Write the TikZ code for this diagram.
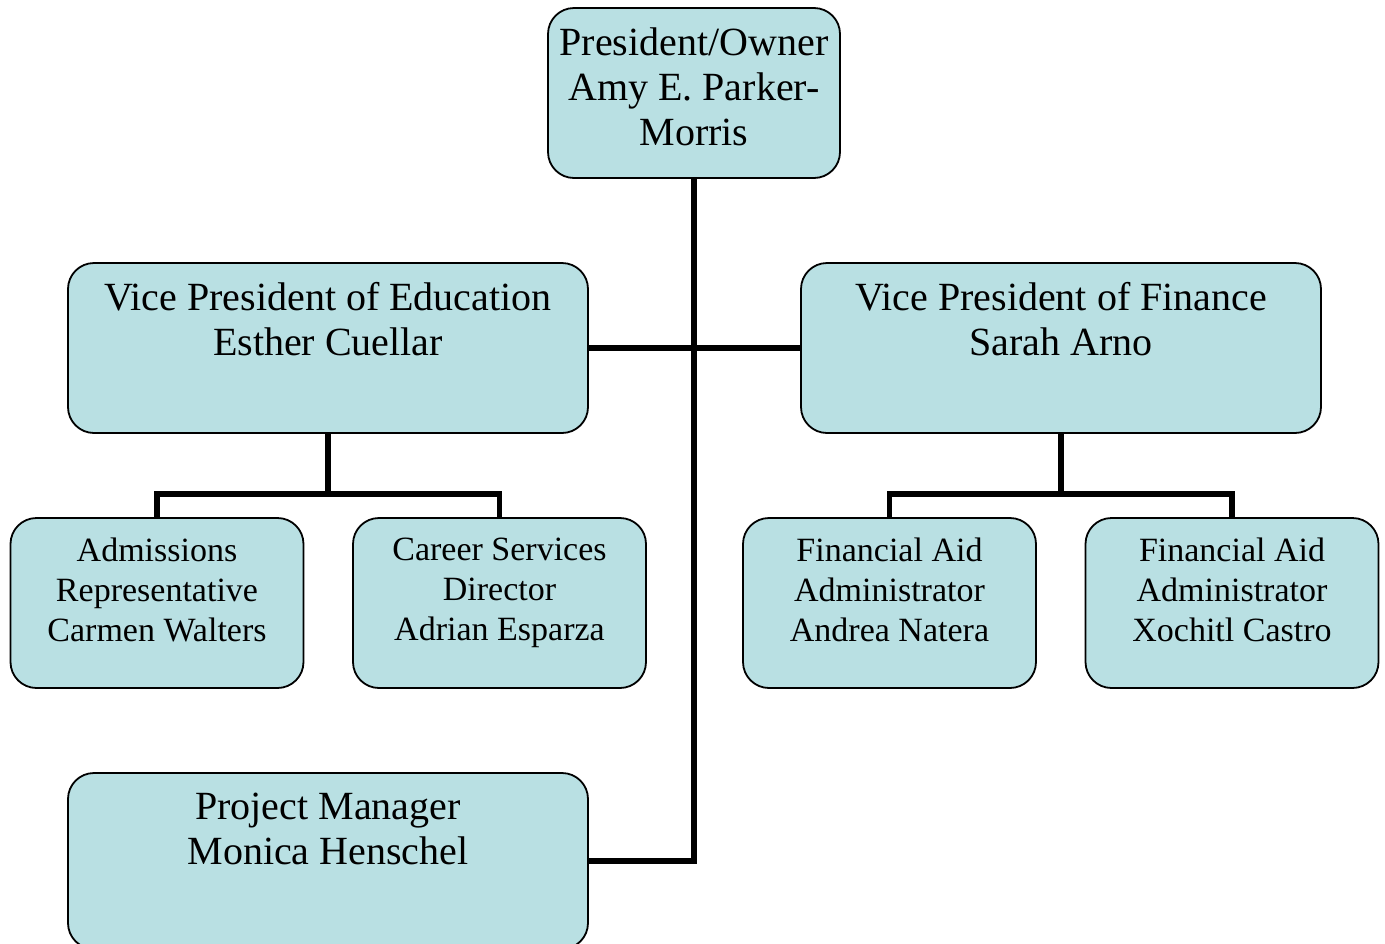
\documentclass[tikz,border=0pt]{standalone}
\usepackage{fontspec}
\setmainfont{Liberation Serif}
\usetikzlibrary{positioning}

\definecolor{boxfill}{RGB}{185,224,227}
\tikzset{
	box/.style={draw, fill=boxfill, line width=1.8pt, rounded corners=26pt, minimum height=170pt, inner sep=0pt},
	widebox/.style={box, minimum width=520pt},
	smallbox/.style={box, minimum width=293pt},
	toptext/.style={anchor=north, align=center, yshift=-17pt},
	link/.style={line width=5.5pt}
}

\begin{document}
\begin{tikzpicture}[x=1pt,y=-1pt]
	\useasboundingbox (0,0) rectangle (1385,943);
	% people
	\node[box, minimum width=292pt, label={[toptext, font=\fontsize{40}{45}\selectfont]north:President/Owner\\Amy E. Parker-\\Morris}] (pres) at (694,93) {};
	\node[widebox, label={[toptext, font=\fontsize{40}{45}\selectfont]north:Vice President of Education\\Esther Cuellar}] (vpe) at (328,348) {};
	\node[widebox, label={[toptext, font=\fontsize{40}{45}\selectfont]north:Vice President of Finance\\Sarah Arno}] (vpf) at (1061,348) {};
	\node[smallbox, label={[toptext, font=\fontsize{34}{40}\selectfont]north:Admissions\\Representative\\Carmen Walters}] (adm) at (157,603) {};
	\node[smallbox, label={[toptext, font=\fontsize{34}{40}\selectfont]north:Career Services\\Director\\Adrian Esparza}] (car) at (499.5,603) {};
	\node[smallbox, label={[toptext, font=\fontsize{34}{40}\selectfont]north:Financial Aid\\Administrator\\Andrea Natera}] (fa1) at (889.5,603) {};
	\node[smallbox, label={[toptext, font=\fontsize{34}{40}\selectfont]north:Financial Aid\\Administrator\\Xochitl Castro}] (fa2) at (1232,603) {};
	\node[widebox, minimum height=176pt, label={[toptext, font=\fontsize{40}{45}\selectfont]north:Project Manager\\Monica Henschel}] (pm) at (328,861) {};

	% lines
	\draw[link] (pres.south) |- (pm.east);
	\draw[link] (vpe.east) -- (vpf.west);
	\draw[link] (vpe.south) -- ++(0,60) coordinate (vpeb);
	\draw[link] (adm.north) |- (vpeb) -| (car.north);
	\draw[link] (vpf.south) -- ++(0,60) coordinate (vpfb);
	\draw[link] (fa1.north) |- (vpfb) -| (fa2.north);
\end{tikzpicture}
\end{document}
